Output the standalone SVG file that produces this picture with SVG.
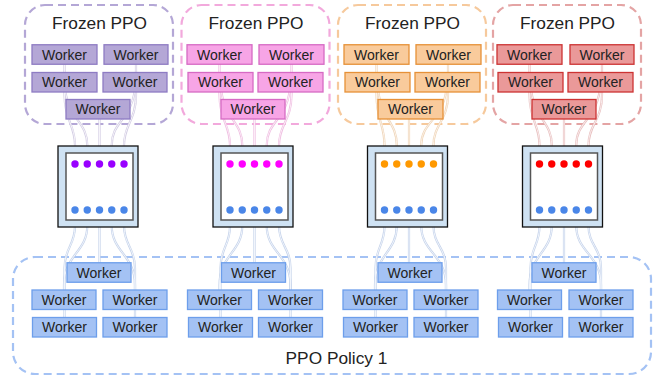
<svg xmlns="http://www.w3.org/2000/svg" xmlns:xlink="http://www.w3.org/1999/xlink" width="655" height="379" viewBox="0 0 655 379">
<style>
text{font-family:"Liberation Sans",Arial,sans-serif;fill:#222;text-anchor:middle}
.wt{font-size:14px}
.tt{font-size:17.3px}
.dash{fill:none;stroke-width:2.2;stroke-dasharray:8 5}
.wk{stroke-width:1.3}
.pu{fill:#b4a7d6;stroke:#8e7cc3}
.pk{fill:#f7a5e6;stroke:#d66ac4}
.or{fill:#f9cb9c;stroke:#e69138}
.rd{fill:#ea9999;stroke:#cc3333}
.bl{fill:#a4c2f4;stroke:#6d9eeb}
.outer{fill:#cfe2f3;stroke:#111;stroke-width:1.3}
.inner{fill:#fff;stroke:#555;stroke-width:1.5}
.halo{fill:none;stroke-width:2.2}
.core{fill:none;stroke-width:1}
</style>
<defs>
<g id="t1">
<path d="M64.5,54 L64.5,95 C64.5,120 75,125 75,145 L75,164"/>
<path d="M64.5,82 C66,120 87.25,120 87.25,145 L87.25,164"/>
<path d="M99.5,109 L99.5,164"/>
<path d="M135.5,82 C134,120 111.75,120 111.75,145 L111.75,164"/>
<path d="M136,54 L136,95 C136,120 124,125 124,145 L124,164"/>
</g>
<g id="b1">
<path d="M75,210 L75,226 C75,245 64.5,248 64.5,268 L64.5,327"/>
<path d="M87.25,210 L87.25,226 C87.25,252 64,255 64,285 L64,299"/>
<path d="M99.5,210 L99.5,272"/>
<path d="M111.75,210 L111.75,226 C111.75,252 135,255 135,285 L135,299"/>
<path d="M124,210 L124,226 C124,245 135,248 135,268 L135,327"/>
</g>
<g id="t2">
<path d="M219.5,54 L219.5,95 C219.5,120 230,125 230,145 L230,164"/>
<path d="M220.5,82 C222,120 242.25,120 242.25,145 L242.25,164"/>
<path d="M254.5,109 L254.5,164"/>
<path d="M290.5,82 C289,120 266.75,120 266.75,145 L266.75,164"/>
<path d="M291.5,54 L291.5,95 C291.5,120 279,125 279,145 L279,164"/>
</g>
<g id="b2">
<path d="M230,210 L230,226 C230,245 220.5,248 220.5,268 L220.5,327"/>
<path d="M242.25,210 L242.25,226 C242.25,252 219.5,255 219.5,285 L219.5,299"/>
<path d="M254.5,210 L254.5,272"/>
<path d="M266.75,210 L266.75,226 C266.75,252 290.5,255 290.5,285 L290.5,299"/>
<path d="M279,210 L279,226 C279,245 290.5,248 290.5,268 L290.5,327"/>
</g>
<g id="t3">
<path d="M376.5,54 L376.5,95 C376.5,120 384.5,125 384.5,145 L384.5,164"/>
<path d="M377.5,82 C379,120 396.75,120 396.75,145 L396.75,164"/>
<path d="M409,109 L409,164"/>
<path d="M447,82 C446,120 421.25,120 421.25,145 L421.25,164"/>
<path d="M448,54 L448,95 C448,120 433.5,125 433.5,145 L433.5,164"/>
</g>
<g id="b3">
<path d="M384.5,210 L384.5,226 C384.5,245 375.5,248 375.5,268 L375.5,327"/>
<path d="M396.75,210 L396.75,226 C396.75,252 375,255 375,285 L375,299"/>
<path d="M409,210 L409,272"/>
<path d="M421.25,210 L421.25,226 C421.25,252 446,255 446,285 L446,299"/>
<path d="M433.5,210 L433.5,226 C433.5,245 446,248 446,268 L446,327"/>
</g>
<g id="t4">
<path d="M529.5,54 L529.5,95 C529.5,120 539.5,125 539.5,145 L539.5,164"/>
<path d="M530.5,82 C532,120 551.75,120 551.75,145 L551.75,164"/>
<path d="M564,109 L564,164"/>
<path d="M600.5,82 C599,120 576.25,120 576.25,145 L576.25,164"/>
<path d="M602,54 L602,95 C602,120 588.5,125 588.5,145 L588.5,164"/>
</g>
<g id="b4">
<path d="M539.5,210 L539.5,226 C539.5,245 530.5,248 530.5,268 L530.5,327"/>
<path d="M551.75,210 L551.75,226 C551.75,252 529.5,255 529.5,285 L529.5,299"/>
<path d="M564,210 L564,272"/>
<path d="M576.25,210 L576.25,226 C576.25,252 601,255 601,285 L601,299"/>
<path d="M588.5,210 L588.5,226 C588.5,245 601,248 601,268 L601,327"/>
</g>
</defs>

<g id="groups">
<rect id="frozen-1-frame" class="dash" x="25" y="5" width="148" height="119" rx="20" stroke="#b4a7d6"/>
<rect id="frozen-2-frame" class="dash" x="181.5" y="5" width="148" height="119" rx="20" stroke="#f2a9dc"/>
<rect id="frozen-3-frame" class="dash" x="338" y="5" width="148" height="119" rx="20" stroke="#f6c99c"/>
<rect id="frozen-4-frame" class="dash" x="493" y="5" width="148" height="119" rx="20" stroke="#e4a4a4"/>
<rect id="policy-frame" class="dash" x="13" y="257" width="638" height="117" rx="22" stroke="#a4c2f4"/>
<text class="tt" x="99.5" y="28.5">Frozen PPO</text>
<text class="tt" x="256" y="28.5">Frozen PPO</text>
<text class="tt" x="412.5" y="28.5">Frozen PPO</text>
<text class="tt" x="567.5" y="28.5">Frozen PPO</text>
<text class="tt" x="336.5" y="364">PPO Policy 1</text>
</g>

<g id="connectors">
<use href="#t1" class="halo" stroke="#d2cce3"/><use href="#t1" class="core" stroke="#f6f4fa"/>
<use href="#t2" class="halo" stroke="#efbde1"/><use href="#t2" class="core" stroke="#fcecf7"/>
<use href="#t3" class="halo" stroke="#eed4b8"/><use href="#t3" class="core" stroke="#fdf3e8"/>
<use href="#t4" class="halo" stroke="#e8c0c0"/><use href="#t4" class="core" stroke="#faeded"/>
<use href="#b1" class="halo" stroke="#c4d2ea"/><use href="#b1" class="core" stroke="#f1f5fc"/>
<use href="#b2" class="halo" stroke="#c4d2ea"/><use href="#b2" class="core" stroke="#f1f5fc"/>
<use href="#b3" class="halo" stroke="#c4d2ea"/><use href="#b3" class="core" stroke="#f1f5fc"/>
<use href="#b4" class="halo" stroke="#c4d2ea"/><use href="#b4" class="core" stroke="#f1f5fc"/>
</g>

<!-- Frozen PPO 1 workers -->
<g id="f1-w1"><rect class="wk pu" x="32" y="44.75" width="65" height="19.5"/><text class="wt" x="64.5" y="59.5">Worker</text></g>
<g id="f1-w2"><rect class="wk pu" x="104" y="44.75" width="64" height="19.5"/><text class="wt" x="136" y="59.5">Worker</text></g>
<g id="f1-w3"><rect class="wk pu" x="32" y="72.5" width="65" height="19.5"/><text class="wt" x="64.5" y="87.25">Worker</text></g>
<g id="f1-w4"><rect class="wk pu" x="103" y="72.5" width="64" height="19.5"/><text class="wt" x="135" y="87.25">Worker</text></g>
<g id="f1-w5"><rect class="wk pu" x="66" y="99.5" width="64" height="19.5"/><text class="wt" x="98" y="114.25">Worker</text></g>

<!-- Frozen PPO 2 workers -->
<g id="f2-w1"><rect class="wk pk" x="187" y="44.75" width="65" height="19.5"/><text class="wt" x="219.5" y="59.5">Worker</text></g>
<g id="f2-w2"><rect class="wk pk" x="259" y="44.75" width="65" height="19.5"/><text class="wt" x="291.5" y="59.5">Worker</text></g>
<g id="f2-w3"><rect class="wk pk" x="188" y="72.5" width="65" height="19.5"/><text class="wt" x="220.5" y="87.25">Worker</text></g>
<g id="f2-w4"><rect class="wk pk" x="258" y="72.5" width="65" height="19.5"/><text class="wt" x="290.5" y="87.25">Worker</text></g>
<g id="f2-w5"><rect class="wk pk" x="221" y="99.5" width="64" height="19.5"/><text class="wt" x="253" y="114.25">Worker</text></g>

<!-- Frozen PPO 3 workers -->
<g id="f3-w1"><rect class="wk or" x="344" y="44.75" width="65" height="19.5"/><text class="wt" x="376.5" y="59.5">Worker</text></g>
<g id="f3-w2"><rect class="wk or" x="416" y="44.75" width="65" height="19.5"/><text class="wt" x="448.5" y="59.5">Worker</text></g>
<g id="f3-w3"><rect class="wk or" x="345" y="72.5" width="65" height="19.5"/><text class="wt" x="377.5" y="87.25">Worker</text></g>
<g id="f3-w4"><rect class="wk or" x="415" y="72.5" width="65" height="19.5"/><text class="wt" x="447.5" y="87.25">Worker</text></g>
<g id="f3-w5"><rect class="wk or" x="378" y="99.5" width="65" height="19.5"/><text class="wt" x="410.5" y="114.25">Worker</text></g>

<!-- Frozen PPO 4 workers -->
<g id="f4-w1"><rect class="wk rd" x="497" y="44.75" width="65" height="19.5"/><text class="wt" x="529.5" y="59.5">Worker</text></g>
<g id="f4-w2"><rect class="wk rd" x="570" y="44.75" width="64" height="19.5"/><text class="wt" x="602" y="59.5">Worker</text></g>
<g id="f4-w3"><rect class="wk rd" x="498" y="72.5" width="65" height="19.5"/><text class="wt" x="530.5" y="87.25">Worker</text></g>
<g id="f4-w4"><rect class="wk rd" x="568" y="72.5" width="65" height="19.5"/><text class="wt" x="600.5" y="87.25">Worker</text></g>
<g id="f4-w5"><rect class="wk rd" x="532" y="99.5" width="64" height="19.5"/><text class="wt" x="564" y="114.25">Worker</text></g>

<!-- Environment nodes -->
<g id="env-1">
<rect class="outer" x="58" y="146" width="80" height="81"/><rect class="inner" x="66" y="153" width="67" height="67"/>
<g fill="#9900ff"><circle cx="75" cy="164" r="3.7"/><circle cx="87.25" cy="164" r="3.7"/><circle cx="99.5" cy="164" r="3.7"/><circle cx="111.75" cy="164" r="3.7"/><circle cx="124" cy="164" r="3.7"/></g>
<g fill="#4a86e8"><circle cx="75" cy="210" r="3.7"/><circle cx="87.25" cy="210" r="3.7"/><circle cx="99.5" cy="210" r="3.7"/><circle cx="111.75" cy="210" r="3.7"/><circle cx="124" cy="210" r="3.7"/></g>
</g>
<g id="env-2">
<rect class="outer" x="213" y="146" width="80" height="81"/><rect class="inner" x="221" y="153" width="67" height="67"/>
<g fill="#ff00ff"><circle cx="230" cy="164" r="3.7"/><circle cx="242.25" cy="164" r="3.7"/><circle cx="254.5" cy="164" r="3.7"/><circle cx="266.75" cy="164" r="3.7"/><circle cx="279" cy="164" r="3.7"/></g>
<g fill="#4a86e8"><circle cx="230" cy="210" r="3.7"/><circle cx="242.25" cy="210" r="3.7"/><circle cx="254.5" cy="210" r="3.7"/><circle cx="266.75" cy="210" r="3.7"/><circle cx="279" cy="210" r="3.7"/></g>
</g>
<g id="env-3">
<rect class="outer" x="367.5" y="146" width="80" height="81"/><rect class="inner" x="375.5" y="153" width="67" height="67"/>
<g fill="#ff9900"><circle cx="384.5" cy="164" r="3.7"/><circle cx="396.75" cy="164" r="3.7"/><circle cx="409" cy="164" r="3.7"/><circle cx="421.25" cy="164" r="3.7"/><circle cx="433.5" cy="164" r="3.7"/></g>
<g fill="#4a86e8"><circle cx="384.5" cy="210" r="3.7"/><circle cx="396.75" cy="210" r="3.7"/><circle cx="409" cy="210" r="3.7"/><circle cx="421.25" cy="210" r="3.7"/><circle cx="433.5" cy="210" r="3.7"/></g>
</g>
<g id="env-4">
<rect class="outer" x="522.5" y="146" width="80" height="81"/><rect class="inner" x="530.5" y="153" width="67" height="67"/>
<g fill="#ff0000"><circle cx="539.5" cy="164" r="3.7"/><circle cx="551.75" cy="164" r="3.7"/><circle cx="564" cy="164" r="3.7"/><circle cx="576.25" cy="164" r="3.7"/><circle cx="588.5" cy="164" r="3.7"/></g>
<g fill="#4a86e8"><circle cx="539.5" cy="210" r="3.7"/><circle cx="551.75" cy="210" r="3.7"/><circle cx="564" cy="210" r="3.7"/><circle cx="576.25" cy="210" r="3.7"/><circle cx="588.5" cy="210" r="3.7"/></g>
</g>

<!-- PPO Policy 1 workers -->
<g id="p1-w1"><rect class="wk bl" x="67" y="262.75" width="64" height="19.5"/><text class="wt" x="99" y="277.5">Worker</text></g>
<g id="p1-w2"><rect class="wk bl" x="32" y="290" width="64" height="19.5"/><text class="wt" x="64" y="304.75">Worker</text></g>
<g id="p1-w3"><rect class="wk bl" x="103" y="290" width="64" height="19.5"/><text class="wt" x="135" y="304.75">Worker</text></g>
<g id="p1-w4"><rect class="wk bl" x="32.5" y="317.5" width="64" height="19.5"/><text class="wt" x="64.5" y="332.25">Worker</text></g>
<g id="p1-w5"><rect class="wk bl" x="103" y="317.5" width="64" height="19.5"/><text class="wt" x="135" y="332.25">Worker</text></g>

<g id="p2-w1"><rect class="wk bl" x="221.5" y="262.75" width="64" height="19.5"/><text class="wt" x="253.5" y="277.5">Worker</text></g>
<g id="p2-w2"><rect class="wk bl" x="187.5" y="290" width="64" height="19.5"/><text class="wt" x="219.5" y="304.75">Worker</text></g>
<g id="p2-w3"><rect class="wk bl" x="258.5" y="290" width="64" height="19.5"/><text class="wt" x="290.5" y="304.75">Worker</text></g>
<g id="p2-w4"><rect class="wk bl" x="188.5" y="317.5" width="64" height="19.5"/><text class="wt" x="220.5" y="332.25">Worker</text></g>
<g id="p2-w5"><rect class="wk bl" x="258.5" y="317.5" width="64" height="19.5"/><text class="wt" x="290.5" y="332.25">Worker</text></g>

<g id="p3-w1"><rect class="wk bl" x="378" y="262.75" width="64" height="19.5"/><text class="wt" x="410" y="277.5">Worker</text></g>
<g id="p3-w2"><rect class="wk bl" x="343" y="290" width="64" height="19.5"/><text class="wt" x="375" y="304.75">Worker</text></g>
<g id="p3-w3"><rect class="wk bl" x="414" y="290" width="64" height="19.5"/><text class="wt" x="446" y="304.75">Worker</text></g>
<g id="p3-w4"><rect class="wk bl" x="343.5" y="317.5" width="64" height="19.5"/><text class="wt" x="375.5" y="332.25">Worker</text></g>
<g id="p3-w5"><rect class="wk bl" x="414" y="317.5" width="64" height="19.5"/><text class="wt" x="446" y="332.25">Worker</text></g>

<g id="p4-w1"><rect class="wk bl" x="532" y="262.75" width="64" height="19.5"/><text class="wt" x="564" y="277.5">Worker</text></g>
<g id="p4-w2"><rect class="wk bl" x="497.5" y="290" width="64" height="19.5"/><text class="wt" x="529.5" y="304.75">Worker</text></g>
<g id="p4-w3"><rect class="wk bl" x="569" y="290" width="64" height="19.5"/><text class="wt" x="601" y="304.75">Worker</text></g>
<g id="p4-w4"><rect class="wk bl" x="498.5" y="317.5" width="64" height="19.5"/><text class="wt" x="530.5" y="332.25">Worker</text></g>
<g id="p4-w5"><rect class="wk bl" x="569" y="317.5" width="64" height="19.5"/><text class="wt" x="601" y="332.25">Worker</text></g>
</svg>
